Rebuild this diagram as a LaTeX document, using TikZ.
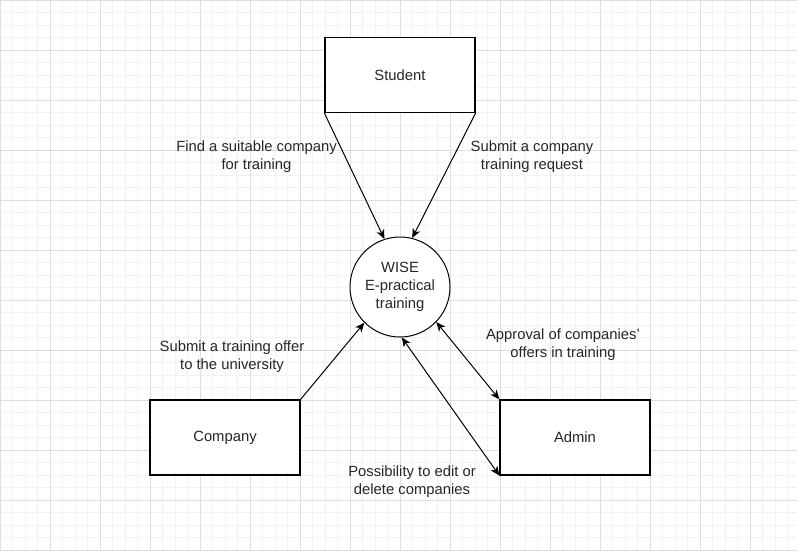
\documentclass[tikz,border=0pt]{standalone}
\usepackage{fontspec}
\setmainfont{Liberation Sans}
\usetikzlibrary{arrows.meta}
\tikzset{
  >={Stealth[length=7pt,width=6pt,inset=2pt]},
  entity/.style={draw, line width=0.9pt, minimum width=112.5pt, minimum height=56.25pt, inner sep=0pt},
  process/.style={draw, circle, line width=0.75pt, minimum size=75pt, inner sep=0pt, align=center},
  flow/.style={line width=0.75pt},
  lbl/.style={align=center, inner sep=0pt},
}
\begin{document}
\begin{tikzpicture}[x=0.75pt,y=-0.75pt,font=\fontsize{11.1}{13.5}\selectfont, text=black!85]
  \useasboundingbox (0,0) rectangle (797,551);
  % background grid
  \foreach \x in {0,12.5,...,800} { \draw[black!5, line width=0.5pt] (\x,0) -- (\x,551); }
  \foreach \y in {0,12.5,...,550} { \draw[black!5, line width=0.5pt] (0,\y) -- (797,\y); }
  \foreach \x in {0,50,...,800} { \draw[black!13, line width=0.6pt] (\x,0) -- (\x,551); }
  \foreach \y in {0,50,...,550} { \draw[black!13, line width=0.6pt] (0,\y) -- (797,\y); }
  % entities and process
  \node[entity, fill=white] (student) at (400,75) {Student};
  \node[entity, fill=white] (company) at (225,437.5) {Company};
  \node[entity, fill=white] (admin) at (575,437.5) {Admin};
  \node[process, fill=white] (wise) at (400,287) {WISE\\E-practical\\training};
  % flows
  \draw[flow, ->] (student.south west) -- (wise.108.8);
  \draw[flow, ->] (student.south east) -- (wise.76.5);
  \draw[flow, ->] (company.north east) -- (wise.225.8);
  \draw[flow, <->] (admin.north west) -- (wise.316.5);
  \draw[flow, <->] (admin.south west) -- (wise.272);
  % flow labels
  \node[lbl] (findlbl) at (256.5,157) {Find a suitable company\\for training};
  \node[lbl] (requestlbl) at (532,157) {Submit a company\\training request};
  \node[lbl] (offerlbl) at (232,357) {Submit a training offer\\to the university};
  \node[lbl] (approvallbl) at (563,344.5) {Approval of companies'\\offers in training};
  \node[lbl] (editlbl) at (412,482) {Possibility to edit or\\delete companies};
\end{tikzpicture}
\end{document}
